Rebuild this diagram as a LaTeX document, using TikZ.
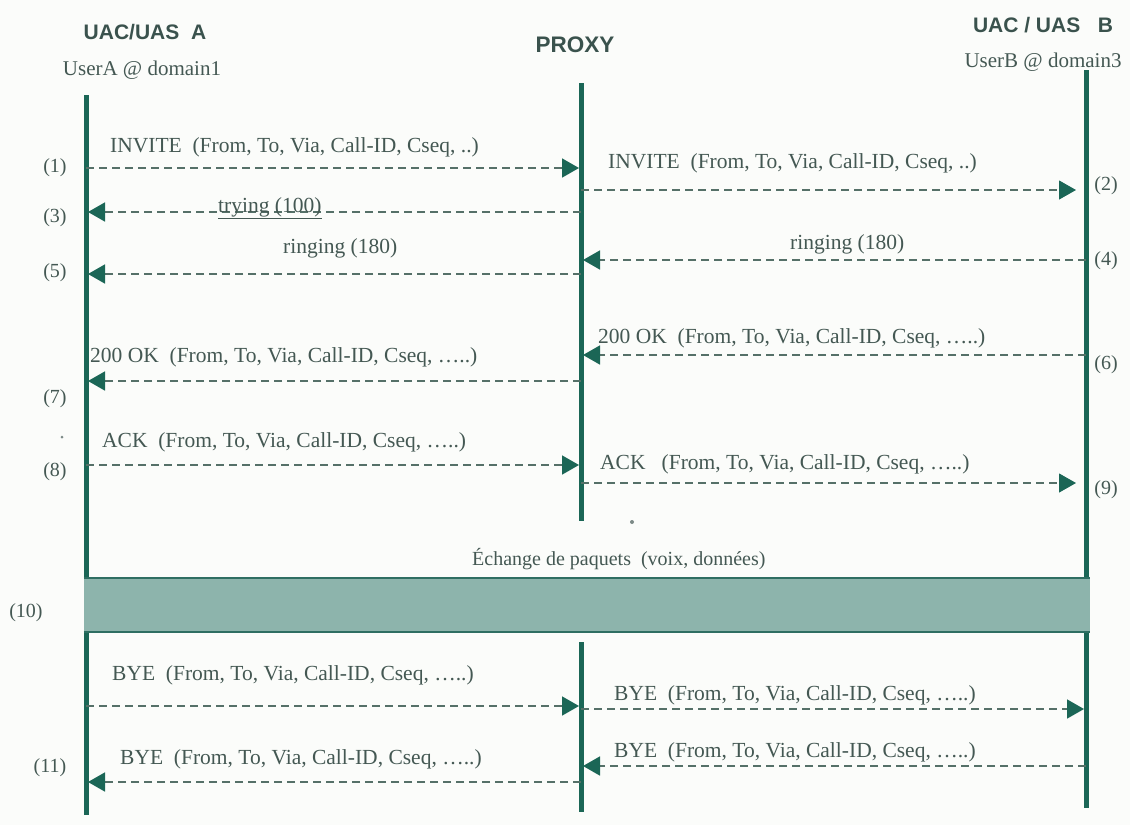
\documentclass[tikz,border=0pt]{standalone}
\usepackage{fontspec}
\setmainfont{Liberation Serif}
\newfontfamily\headfont{Liberation Sans}
\usetikzlibrary{arrows.meta}
\definecolor{life}{HTML}{1B6656}
\definecolor{dashc}{HTML}{557068}
\definecolor{txt}{HTML}{445853}
\definecolor{headc}{HTML}{3A524D}
\definecolor{bandfill}{HTML}{8DB4AC}
\definecolor{bandedge}{HTML}{2E6E62}
\definecolor{bg}{HTML}{FBFCFA}
\begin{document}
\begin{tikzpicture}[x=1pt,y=-1pt,
  lifeline/.style={draw=life,line width=5pt},
  msg/.style={draw=dashc,line width=1.7pt,dash pattern=on 8pt off 5pt,
    -{Triangle[length=17pt,width=19pt,color=life]},shorten >=2pt},
  thinmsg/.style={msg,line width=1.1pt},
  msglabel/.style={anchor=base west,inner sep=0pt,text=txt,font=\fontsize{21.5}{25}\selectfont},
  numlabel/.style={inner sep=0pt,text=txt,font=\fontsize{20}{24}\selectfont},
  headlabel/.style={inner sep=0pt,text=headc,font=\headfont\bfseries\fontsize{21}{25}\selectfont},
  userlabel/.style={inner sep=0pt,text=txt,font=\fontsize{21}{25}\selectfont},
  dotmark/.style={circle,fill=txt!70,inner sep=0pt,minimum size=4pt}]
\useasboundingbox[fill=bg] (0,0) rectangle (1130,825);

% headers
\node[headlabel] (hA) at (145,32) {UAC/UAS\ \ A};
\node[userlabel] (uA) at (142,70) {UserA @ domain1};
\node[headlabel,font=\headfont\bfseries\fontsize{22.5}{26}\selectfont] (hP) at (575,45) {PROXY};
\node[headlabel] (hB) at (1043,25) {UAC / UAS\ \ \ B};
\node[userlabel] (uB) at (1043,62) {UserB @ domain3};

% lifelines
\coordinate (Atop) at (86,95);   \coordinate (Abot) at (86,815);
\coordinate (Ptop) at (581,83);  \coordinate (Pmid) at (581,521);
\coordinate (Pre)  at (581,642); \coordinate (Pbot) at (581,812);
\coordinate (Btop) at (1086,70); \coordinate (Bbot) at (1086,808);
\draw[lifeline] (Atop) -- (Abot);
\draw[lifeline] (Ptop) -- (Pmid);
\draw[lifeline] (Pre) -- (Pbot);
\draw[lifeline] (Btop) -- (Bbot);

% message end points
\coordinate (a1) at (86,168);  \coordinate (p1) at (581,168);
\coordinate (p2) at (581,190); \coordinate (b2) at (1078,190);
\coordinate (p3) at (581,212); \coordinate (a3) at (86,212);
\coordinate (b4) at (1086,260);\coordinate (p4) at (581,260);
\coordinate (p5) at (581,274); \coordinate (a5) at (86,274);
\coordinate (b6) at (1086,355);\coordinate (p6) at (581,355);
\coordinate (p7) at (581,381); \coordinate (a7) at (86,381);
\coordinate (a8) at (86,465);  \coordinate (p8) at (581,465);
\coordinate (p9) at (581,483); \coordinate (b9) at (1078,483);
\coordinate (a10) at (86,706); \coordinate (p10) at (581,706);
\coordinate (p11) at (581,709);\coordinate (b11) at (1086,709);
\coordinate (b12) at (1086,766);\coordinate (p12) at (581,766);
\coordinate (p13) at (581,782);\coordinate (a13) at (86,782);

\draw[msg] (a1) -- (p1);
\draw[thinmsg] (p2) -- (b2);
\draw[msg] (p3) -- (a3);
\draw[msg] (b4) -- (p4);
\draw[msg] (p5) -- (a5);
\draw[msg] (b6) -- (p6);
\draw[msg] (p7) -- (a7);
\draw[msg] (a8) -- (p8);
\draw[thinmsg] (p9) -- (b9);
\draw[msg] (a10) -- (p10);
\draw[msg] (p11) -- (b11);
\draw[msg] (b12) -- (p12);
\draw[msg] (p13) -- (a13);

% message labels
\node[msglabel] (l1) at (110,152) {INVITE\ \ (From, To, Via, Call-ID, Cseq, ..)};
\node[msglabel] (l2) at (608,168) {INVITE\ \ (From, To, Via, Call-ID, Cseq, ..)};
\node[msglabel] (l3) at (218,212) {\underline{trying (100)}};
\node[msglabel] (l4) at (790,249) {ringing (180)};
\node[msglabel] (l5) at (283,253) {ringing (180)};
\node[msglabel] (l6) at (598,343) {200 OK\ \ (From, To, Via, Call-ID, Cseq, …..)};
\node[msglabel] (l7) at (90,362) {200 OK\ \ (From, To, Via, Call-ID, Cseq, …..)};
\node[msglabel] (l8) at (102,447) {ACK\ \ (From, To, Via, Call-ID, Cseq, …..)};
\node[msglabel] (l9) at (600,469) {ACK\ \ \ (From, To, Via, Call-ID, Cseq, …..)};
\node[msglabel] (l10) at (112,680) {BYE\ \ (From, To, Via, Call-ID, Cseq, …..)};
\node[msglabel] (l11) at (614,700) {BYE\ \ (From, To, Via, Call-ID, Cseq, …..)};
\node[msglabel] (l12) at (614,757) {BYE\ \ (From, To, Via, Call-ID, Cseq, …..)};
\node[msglabel] (l13) at (120,764) {BYE\ \ (From, To, Via, Call-ID, Cseq, …..)};

% step numbers
\node[numlabel] (n1) at (55,168) {(1)};
\node[numlabel] (n2) at (1106,186) {(2)};
\node[numlabel] (n3) at (55,218) {(3)};
\node[numlabel] (n4) at (1106,261) {(4)};
\node[numlabel] (n5) at (55,273) {(5)};
\node[numlabel] (n6) at (1106,365) {(6)};
\node[numlabel] (n7) at (55,399) {(7)};
\node[numlabel] (n8) at (55,472) {(8)};
\node[numlabel] (n9) at (1106,490) {(9)};
\node[numlabel] (n10) at (26,613) {(10)};
\node[numlabel] (n11) at (50,768) {(11)};
\node[dotmark,minimum size=3pt] (d1) at (62,437) {};
\node[dotmark] (d2) at (632,522) {};

% data exchange band
\node[msglabel,font=\fontsize{20}{24}\selectfont] (lx) at (472,565) {Échange de paquets\ \ (voix, données)};
\node[fill=bandfill,inner sep=0pt,minimum width=1006pt,minimum height=54pt] (band) at (587,605) {};
\draw[bandedge,line width=2pt] (band.north west) -- (band.north east);
\draw[bandedge,line width=2pt] (band.south west) -- (band.south east);
\end{tikzpicture}
\end{document}
